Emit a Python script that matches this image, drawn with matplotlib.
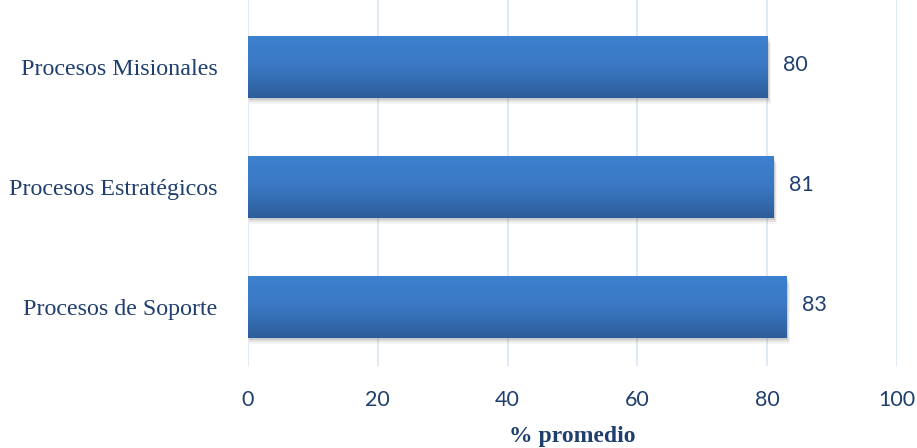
import matplotlib.pyplot as plt
import numpy as np
from matplotlib.colors import LinearSegmentedColormap

# Data
categorias = ["Procesos de Soporte", "Procesos Estratégicos", "Procesos Misionales"]
valores = [83, 81, 80]
ticks_x = [0, 20, 40, 60, 80, 100]

TXT = "#1F3F6E"
grad = LinearSegmentedColormap.from_list("g", ["#2D5D99", "#3A78C2", "#3D80CF"])

fig = plt.figure(figsize=(9.17, 4.48), dpi=100)
ax = fig.add_axes([248 / 917, 1 - 366 / 448, 649 / 917, 366 / 448])

y = np.arange(len(categorias))
h = 0.51
bars = ax.barh(y, valores, height=h, color="none", zorder=3)

# gradient fill + soft shadow for each bar
g = np.linspace(0, 1, 100).reshape(-1, 1)
for b in bars:
    x0, y0 = b.get_x(), b.get_y()
    w, hh = b.get_width(), b.get_height()
    for k, a in enumerate([0.10, 0.07, 0.04]):
        ax.add_patch(plt.Rectangle((x0 + 0.1, y0 - 0.02 - 0.015 * k), w + 0.15 * (k + 1), hh,
                                   color="black", alpha=a, lw=0, zorder=2))
    ax.imshow(g, cmap=grad, aspect="auto", extent=(x0, x0 + w, y0, y0 + hh),
              origin="lower", zorder=4)

for yi, v in zip(y, valores):
    ax.text(v + 4.3, yi + 0.02, f"{v}", va="center", ha="center",
            fontsize=15.5, color=TXT, family="Lato")

ax.set_xlim(0, 100)
ax.set_ylim(-0.49, 2.56)
ax.set_xticks(ticks_x)
ax.set_yticks(y)
ax.set_yticklabels(categorias, family="Liberation Serif", fontsize=17.3, color=TXT)
ax.set_xticklabels([str(t) for t in ticks_x], family="Lato", fontsize=15.5, color=TXT)
ax.tick_params(axis="y", length=0, pad=22)
ax.tick_params(axis="x", length=0, pad=17)
ax.grid(axis="x", color="#DCE6F1", lw=1.2, zorder=0)
for s in ax.spines.values():
    s.set_visible(False)
ax.set_xlabel("% promedio", family="Liberation Serif", fontsize=17,
              fontweight="bold", color=TXT, labelpad=12)

fig.savefig("out.png", dpi=100)
